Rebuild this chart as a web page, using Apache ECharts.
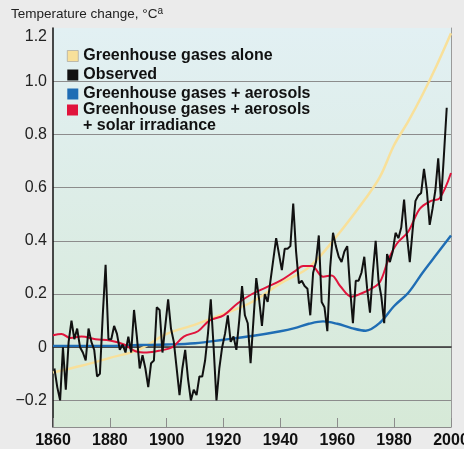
<!DOCTYPE html>
<html>
<head>
<meta charset="utf-8">
<script src="https://cdn.jsdelivr.net/npm/echarts@6/dist/echarts.min.js"></script>
<style>
  html, body { margin: 0; padding: 0; background: #ebebeb; }
  #chart { width: 464px; height: 449px; }
</style>
</head>
<body>
<div id="chart"></div>
<script>
// Global mean temperature change: observations vs. model runs (1860–2000)

// Observed annual anomalies, °C, one value per year starting in 1860
const obsStartYear = 1860;
const obsValues = [
  -0.08, -0.15, -0.20, 0.00, -0.16, 0.02, 0.10, 0.03, 0.07, 0.00,   // 1860s
  -0.02, -0.05, 0.07, 0.02, -0.01, -0.11, -0.10, 0.12, 0.31, 0.03,  // 1870s
  0.03, 0.08, 0.05, -0.01, 0.01, -0.02, 0.04, -0.02, 0.14, 0.04,    // 1880s
  -0.08, -0.03, -0.08, -0.15, -0.06, -0.05, 0.15, 0.14, -0.02, 0.08, // 1890s
  0.18, 0.07, 0.02, -0.08, -0.18, -0.08, -0.01, -0.12, -0.20, -0.16, // 1900s
  -0.18, -0.11, -0.11, -0.05, 0.05, 0.18, 0.00, -0.20, -0.08, 0.00,  // 1910s
  0.05, 0.12, 0.02, 0.04, -0.01, 0.10, 0.23, 0.12, 0.09, -0.06,      // 1920s
  0.10, 0.26, 0.18, 0.08, 0.20, 0.17, 0.25, 0.33, 0.41, 0.35,        // 1930s
  0.29, 0.37, 0.37, 0.38, 0.54, 0.36, 0.24, 0.25, 0.23, 0.22,        // 1940s
  0.12, 0.28, 0.32, 0.42, 0.17, 0.15, 0.06, 0.30, 0.43, 0.38,        // 1950s
  0.34, 0.32, 0.36, 0.38, 0.22, 0.09, 0.25, 0.25, 0.28, 0.34,        // 1960s
  0.22, 0.13, 0.28, 0.40, 0.25, 0.19, 0.09, 0.35, 0.32, 0.36,        // 1970s
  0.43, 0.41, 0.45, 0.555, 0.42, 0.32, 0.44, 0.55, 0.57, 0.58,       // 1980s
  0.67, 0.59, 0.46, 0.52, 0.59, 0.71, 0.55, 0.72, 0.90               // 1990s
];

// Model: greenhouse gases alone
const ghgYears = [1860, 1870, 1880, 1890, 1900, 1910, 1920, 1930, 1940, 1950, 1960, 1970, 1975, 1980, 1985, 1990, 1995, 2000];
const ghgValues = [-0.095, -0.07, -0.04, -0.01, 0.05, 0.085, 0.125, 0.17, 0.24, 0.30, 0.42, 0.56, 0.64, 0.76, 0.85, 0.95, 1.06, 1.18];

// Model: greenhouse gases + aerosols
const aerYears = [1860, 1870, 1880, 1890, 1900, 1910, 1920, 1930, 1940, 1945, 1950, 1955, 1960, 1965, 1970, 1975, 1980, 1985, 1990, 1995, 2000];
const aerValues = [0.005, 0.005, 0.005, 0.008, 0.01, 0.015, 0.028, 0.042, 0.06, 0.072, 0.088, 0.097, 0.088, 0.072, 0.062, 0.092, 0.155, 0.205, 0.28, 0.35, 0.42];

// Model: greenhouse gases + aerosols + solar irradiance
const solYears = [1860, 1863, 1866, 1870, 1875, 1880, 1885, 1889, 1893, 1898, 1902, 1906, 1911, 1915, 1920, 1925, 1930, 1935, 1940, 1945, 1948, 1951, 1955, 1958, 1961, 1965, 1968, 1972, 1975, 1978, 1981, 1985, 1989, 1993, 1996, 2000];
const solValues = [0.045, 0.05, 0.035, 0.04, 0.03, 0.025, 0.01, -0.015, -0.02, -0.012, 0.0, 0.04, 0.06, 0.10, 0.12, 0.165, 0.20, 0.225, 0.25, 0.285, 0.305, 0.305, 0.265, 0.27, 0.23, 0.19, 0.20, 0.22, 0.245, 0.33, 0.39, 0.435, 0.52, 0.55, 0.56, 0.655];

// Axis ticks
const xTicks = [1860, 1880, 1900, 1920, 1940, 1960, 1980, 2000];
const yTickValues = [-0.2, 0, 0.2, 0.4, 0.6, 0.8, 1.0, 1.2];
const yTickLabels = ['\u22120.2', '0', '0.2', '0.4', '0.6', '0.8', '1.0', '1.2'];

const seriesNames = [
  'Greenhouse gases alone',
  'Observed',
  'Greenhouse gases + aerosols',
  'Greenhouse gases + aerosols + solar irradiance'
];

const FONT = '"Liberation Sans", Arial, Helvetica, sans-serif';
const GRID_GRAY = '#8c8c8c';
const C_GHG = '#f8e09a';
const C_OBS = '#111111';
const C_AER = '#1f6db4';
const C_SOL = '#e0143c';

const pairs = (xs, ys) => xs.map((x, i) => [x, ys[i]]);
// annual values are plotted at mid-year
const obsData = obsValues.map((v, i) => [obsStartYear + i + 0.5, v]);

const chart = echarts.init(document.getElementById('chart'), null, { renderer: 'canvas' });

// only every second tenth carries a label; the topmost one sits just below the axis end
const yLabel = v => {
  const i = yTickValues.findIndex(t => Math.abs(t - v) < 1e-6);
  if (i < 0) return '';
  return i === yTickValues.length - 1 ? '{top|' + yTickLabels[i] + '}' : yTickLabels[i];
};

chart.setOption({
  backgroundColor: '#ebebeb',
  animation: false,
  textStyle: { fontFamily: FONT },
  title: {
    text: '{t|Temperature change, \u00B0C}{s|a}',
    left: 11,
    top: 6,
    padding: 0,
    textStyle: {
      fontWeight: 'normal',
      rich: {
        t: { fontFamily: FONT, fontSize: 13.5, fontWeight: 'normal', color: '#222', lineHeight: 16 },
        s: { fontFamily: FONT, fontSize: 10, fontWeight: 'normal', color: '#222', lineHeight: 10, verticalAlign: 'top' }
      }
    }
  },
  grid: {
    left: 53, right: 13, top: 28, bottom: 22,
    outerBoundsMode: 'none',
    containLabel: false,
    show: true,
    borderWidth: 0,
    backgroundColor: {
      type: 'linear', x: 0, y: 0, x2: 0, y2: 1,
      colorStops: [
        { offset: 0, color: '#e2f0f3' },
        { offset: 1, color: '#d6e9d7' }
      ]
    }
  },
  legend: [
    {
      orient: 'vertical',
      left: 67, top: 48,
      padding: 0,
      icon: 'rect',
      itemWidth: 11, itemHeight: 11, itemGap: 3,
      selectedMode: false,
      textStyle: { fontFamily: FONT, fontSize: 16, fontWeight: 'bold', color: '#111', lineHeight: 14 },
      data: [
        { name: seriesNames[0], itemStyle: { color: C_GHG, borderColor: '#9a9a9a', borderWidth: 0.6 } },
        { name: seriesNames[1] },
        { name: seriesNames[2] }
      ]
    },
    {
      orient: 'vertical',
      left: 67, top: 102,
      padding: 0,
      icon: 'rect',
      itemWidth: 11, itemHeight: 11,
      selectedMode: false,
      formatter: () => 'Greenhouse gases + aerosols',
      textStyle: { fontFamily: FONT, fontSize: 16, fontWeight: 'bold', color: '#111', lineHeight: 14 },
      data: [{ name: seriesNames[3] }]
    }
  ],
  graphic: [
    {
      type: 'text',
      left: 83, top: 118,
      style: { text: '+ solar irradiance', font: 'bold 16px ' + FONT, fill: '#111' }
    }
  ],
  xAxis: [
    {
      type: 'value',
      min: xTicks[0], max: xTicks[xTicks.length - 1], interval: 20,
      axisLine: { onZero: false, lineStyle: { color: '#8c8c8c', width: 1 } },
      axisTick: { inside: true, length: 9, lineStyle: { color: '#8c8c8c', width: 1 } },
      axisLabel: {
        margin: 6, fontFamily: FONT, fontSize: 16, fontWeight: 'bold', color: '#111',
        formatter: v => String(v), showMinLabel: true, showMaxLabel: true, hideOverlap: false
      },
      splitLine: { show: false }
    },
    {
      // zero reference line
      type: 'value',
      position: 'top',
      min: xTicks[0], max: xTicks[xTicks.length - 1],
      axisLine: { onZero: true, onZeroAxisIndex: 0, lineStyle: { color: '#333', width: 1.6 } },
      axisTick: { show: false },
      axisLabel: { show: false },
      splitLine: { show: false }
    }
  ],
  yAxis: [
    {
      type: 'value',
      min: -0.3, max: 1.2, interval: 0.1,
      axisLine: { show: true, onZero: false, lineStyle: { color: '#111', width: 1.5 } },
      axisTick: { show: false },
      axisLabel: {
        margin: 6, fontFamily: FONT, fontSize: 16, color: '#222',
        formatter: yLabel,
        rich: {
          top: { fontFamily: FONT, fontSize: 16, color: '#222', padding: [18, 0, 0, 0] }
        }
      },
      splitLine: {
        show: true,
        showMinLine: false,
        showMaxLine: false,
        lineStyle: { color: [GRID_GRAY, 'rgba(0,0,0,0)'], width: 1.2 }
      }
    },
    {
      type: 'value',
      position: 'right',
      min: -0.3, max: 1.2,
      axisLine: { show: true, onZero: false, lineStyle: { color: '#9a9a9a', width: 1 } },
      axisTick: { show: false },
      axisLabel: { show: false },
      splitLine: { show: false }
    }
  ],
  series: [
    {
      name: seriesNames[0], type: 'line', data: pairs(ghgYears, ghgValues),
      smooth: 0.35, showSymbol: false, color: C_GHG,
      lineStyle: { color: C_GHG, width: 2.5 }
    },
    {
      name: seriesNames[2], type: 'line', data: pairs(aerYears, aerValues),
      smooth: 0.35, showSymbol: false, color: C_AER,
      lineStyle: { color: C_AER, width: 2.4 }
    },
    {
      name: seriesNames[3], type: 'line', data: pairs(solYears, solValues),
      smooth: 0.35, showSymbol: false, color: C_SOL,
      lineStyle: { color: C_SOL, width: 2 }
    },
    {
      name: seriesNames[1], type: 'line', data: obsData,
      showSymbol: false, color: C_OBS,
      lineStyle: { color: C_OBS, width: 2 }
    }
  ]
});
</script>
</body>
</html>
